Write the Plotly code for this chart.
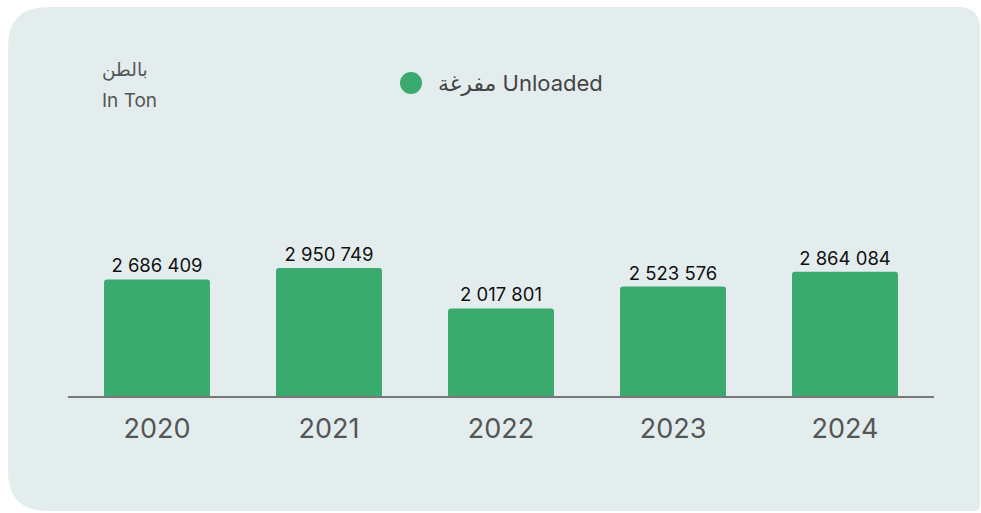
import plotly.graph_objects as go

years = ["2020", "2021", "2022", "2023", "2024"]
unloaded = [2686409, 2950749, 2017801, 2523576, 2864084]
series_name = "مفرغة Unloaded"
unit_ar = "بالطن"
unit_en = "In Ton"

W, H = 981, 513
L, R, T, B = 68, 934, 116, 396  # plot area in pixels

def px(x):
    return (x - L) / (R - L)

def py(y):
    return (B - y) / (B - T)

labels = [f"{v:,}".replace(",", " ") for v in unloaded]

fig = go.Figure()
fig.add_trace(go.Bar(
    x=years, y=unloaded, text=labels, textposition="outside",
    textfont=dict(size=18.5, color="#111111", family="Inter, Roboto, sans-serif"),
    marker=dict(color="#3AAA6E", cornerradius=3, line=dict(width=0)),
    cliponaxis=False, constraintext="none", showlegend=False,
    hoverinfo="x+y",
))

# rounded panel background
x0, y0, x1, y1 = 8, 7, 980, 511
rtl, rtr, rbr, rbl = 40, 22, 6, 40
pts = [
    ("M", (x0 + rtl, y0)),
    ("L", (x1 - rtr, y0)),
    ("Q", (x1, y0), (x1, y0 + rtr)),
    ("L", (x1, y1 - rbr)),
    ("Q", (x1, y1), (x1 - rbr, y1)),
    ("L", (x0 + rbl, y1)),
    ("Q", (x0, y1), (x0, y1 - rbl)),
    ("L", (x0, y0 + rtl)),
    ("Q", (x0, y0), (x0 + rtl, y0)),
]
path = ""
for cmd, *coords in pts:
    path += cmd + " ".join(f"{px(a):.5f},{py(b):.5f}" for a, b in coords) + " "
path += "Z"

shapes = [
    dict(type="path", path=path, xref="paper", yref="paper",
         fillcolor="#E4EDEE", line=dict(width=0), layer="below"),
    dict(type="circle", xref="paper", yref="paper",
         x0=px(400), x1=px(422), y0=py(94), y1=py(72),
         fillcolor="#3AAA6E", line=dict(width=0)),
]

annotations = [
    dict(text=series_name, xref="paper", yref="paper", x=px(436), y=py(83),
         xanchor="left", yanchor="middle", showarrow=False,
         font=dict(size=22, color="#444444", family="Inter, DejaVu Sans, sans-serif")),
    dict(text=unit_ar, xref="paper", yref="paper", x=px(100), y=py(70),
         xanchor="left", yanchor="middle", showarrow=False,
         font=dict(size=18.5, color="#555555", family="DejaVu Sans, sans-serif")),
    dict(text=unit_en, xref="paper", yref="paper", x=px(100), y=py(100),
         xanchor="left", yanchor="middle", showarrow=False,
         font=dict(size=19, color="#555555", family="Inter, Roboto, sans-serif")),
]

fig.update_layout(
    width=W, height=H,
    margin=dict(l=L, r=W - R, t=T, b=H - B, pad=0),
    paper_bgcolor="#FFFFFF", plot_bgcolor="rgba(0,0,0,0)",
    bargap=0.384,
    shapes=shapes, annotations=annotations,
    showlegend=False,
    font=dict(family="Inter, Roboto, sans-serif"),
)
fig.update_xaxes(
    showline=True, linecolor="#777777", linewidth=2, showgrid=False,
    ticks="", tickfont=dict(size=27, color="#555555", family="Inter, Roboto, sans-serif"),
    ticklabelstandoff=8, range=[-0.5174, 4.5174], fixedrange=True,
)
fig.update_yaxes(
    range=[0, 6454669], visible=False, showgrid=False, zeroline=False, fixedrange=True,
)

fig.write_html("out.html", config={"displayModeBar": False},
               post_script="document.body.style.margin='0';document.body.style.overflow='hidden';")
